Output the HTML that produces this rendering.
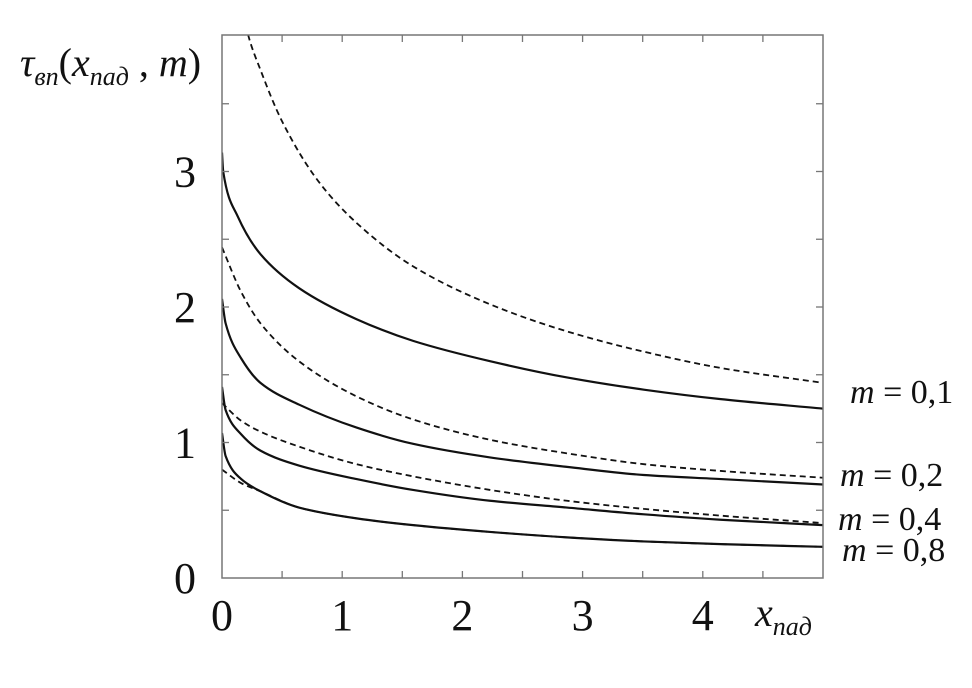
<!DOCTYPE html>
<html><head><meta charset="utf-8">
<style>
body{margin:0;background:#fff;}
svg{display:block;font-family:"Liberation Serif","DejaVu Serif",serif;}
.t{font-size:44px;fill:#111;}
.lg{font-size:34px;fill:#111;}
</style></head>
<body>
<svg id="chart" width="972" height="688" viewBox="0 0 972 688">
<defs><clipPath id="clip"><rect x="222" y="35" width="601" height="543"/></clipPath></defs>
<g id="curves" clip-path="url(#clip)"></g>
<rect x="222" y="35" width="601" height="543" fill="none" stroke="#777" stroke-width="1.5"/>
<g id="ticks"></g>
<text x="20" y="76" font-size="40" font-style="italic" fill="#111">τ<tspan font-size="26" dy="9">вп</tspan><tspan dy="-9" font-style="normal">(</tspan>x<tspan font-size="26" dy="9">пад</tspan><tspan dy="-9" font-style="normal"> , </tspan>m<tspan font-style="normal">)</tspan></text>
<text x="755" y="626" font-size="40" font-style="italic" fill="#111">x<tspan font-size="26" dy="9">пад</tspan></text>
<text class="lg" x="850" y="403"><tspan font-style="italic">m</tspan> = 0,1</text>
<text class="lg" x="840" y="486"><tspan font-style="italic">m</tspan> = 0,2</text>
<text class="lg" x="838" y="530"><tspan font-style="italic">m</tspan> = 0,4</text>
<text class="lg" x="842" y="561"><tspan font-style="italic">m</tspan> = 0,8</text>
</svg>
<script>
const xTickLabels=[0,1,2,3,4];
const yTickLabels=[0,1,2,3];
const seriesNames=['m01-solid','m01-dashed','m02-solid','m02-dashed','m04-solid','m04-dashed','m08-solid','m08-dashed'];
const seriesDashed=[false,true,false,true,false,true,false,true];
const xs01s=[0,0.01,0.13,0.32,0.64,1.12,1.59,2.23,2.87,3.51,4.15,5];
const ys01s=[3.14,3.0,2.67,2.39,2.14,1.91,1.75,1.6,1.48,1.39,1.32,1.25];
const xs01d=[0.15,0.22,0.32,0.5,0.8,1.12,1.59,2.23,2.87,3.51,4.15,5];
const ys01d=[4.3,4.0,3.75,3.37,2.93,2.62,2.3,2.02,1.82,1.67,1.55,1.44];
const xs02s=[0,0.03,0.16,0.32,0.64,1.12,1.59,2.23,2.87,3.51,4.15,5];
const ys02s=[2.06,1.88,1.62,1.44,1.28,1.11,0.99,0.89,0.82,0.76,0.73,0.69];
const xs02d=[0,0.16,0.32,0.64,1.12,1.59,2.23,2.87,3.51,4.15,5];
const ys02d=[2.44,2.11,1.88,1.6,1.34,1.17,1.02,0.92,0.84,0.79,0.74];
const xs04s=[0,0.03,0.16,0.32,0.64,1.12,1.59,2.23,2.87,3.51,4.15,5];
const ys04s=[1.41,1.24,1.06,0.94,0.83,0.73,0.65,0.57,0.52,0.47,0.43,0.39];
const xs04d=[0,0.16,0.32,0.64,1.12,1.59,2.23,2.87,3.51,4.15,5];
const ys04d=[1.29,1.16,1.08,0.97,0.84,0.75,0.65,0.57,0.51,0.46,0.405];
const xs08s=[0,0.03,0.16,0.32,0.64,1.12,1.59,2.23,2.87,3.51,4.15,5];
const ys08s=[1.07,0.9,0.73,0.64,0.52,0.44,0.39,0.34,0.3,0.27,0.25,0.23];
const xs08d=[0,0.16,0.32,0.64,1.12,1.59,2.23,2.87,3.51,4.15,5];
const ys08d=[0.8,0.7,0.64,0.52,0.44,0.39,0.34,0.3,0.27,0.25,0.23];
const seriesX=[xs01s,xs01d,xs02s,xs02d,xs04s,xs04d,xs08s,xs08d];
const seriesY=[ys01s,ys01d,ys02s,ys02d,ys04s,ys04d,ys08s,ys08d];

const X0=222,X1=823,Y0=578,YT=35;
function sx(v){return X0+v*(X1-X0)/5;}
function sy(v){return Y0-v*135.5;}
const NS='http://www.w3.org/2000/svg';
function monotonePath(pts){
  const n=pts.length, d=[], m=new Array(n);
  for(let i=0;i<n-1;i++)d.push((pts[i+1][1]-pts[i][1])/(pts[i+1][0]-pts[i][0]));
  m[0]=d[0]; m[n-1]=d[n-2];
  for(let i=1;i<n-1;i++){
    if(d[i-1]*d[i]<=0)m[i]=0;
    else{const h0=pts[i][0]-pts[i-1][0],h1=pts[i+1][0]-pts[i][0];
      const w1=2*h1+h0,w2=h1+2*h0; m[i]=(w1+w2)/(w1/d[i-1]+w2/d[i]);}
  }
  let s='M'+pts[0][0]+','+pts[0][1];
  for(let i=0;i<n-1;i++){
    const h=(pts[i+1][0]-pts[i][0])/3;
    s+=' C'+(pts[i][0]+h)+','+(pts[i][1]+m[i]*h)+' '+(pts[i+1][0]-h)+','+(pts[i+1][1]-m[i+1]*h)+' '+pts[i+1][0]+','+pts[i+1][1];
  }
  return s;
}
const g=document.getElementById('curves');
for(let s=0;s<seriesNames.length;s++){
  const pts=seriesX[s].map((x,i)=>[sx(x),sy(seriesY[s][i])]);
  const p=document.createElementNS(NS,'path');
  p.setAttribute('d',monotonePath(pts));
  p.setAttribute('fill','none');
  p.setAttribute('stroke','#111');
  p.setAttribute('stroke-width',seriesDashed[s]?'1.8':'2.2');
  if(seriesDashed[s])p.setAttribute('stroke-dasharray','6,4');
  
  
  g.appendChild(p);
}
const tg=document.getElementById('ticks');
function line(x1,y1,x2,y2){
  const l=document.createElementNS(NS,'line');
  l.setAttribute('x1',x1);l.setAttribute('y1',y1);l.setAttribute('x2',x2);l.setAttribute('y2',y2);
  l.setAttribute('stroke','#777');l.setAttribute('stroke-width','1.3');
  
  
  tg.appendChild(l);
}
for(let v=0.5;v<5;v+=0.5){line(sx(v),Y0,sx(v),Y0-7);line(sx(v),YT,sx(v),YT+7);}
for(let v=0.5;v<4;v+=0.5){line(X0,sy(v),X0+7,sy(v));line(X1,sy(v),X1-7,sy(v));}
xTickLabels.forEach(v=>{
  const t=document.createElementNS(NS,'text');
  t.setAttribute('x',sx(v));t.setAttribute('y',630);t.setAttribute('text-anchor','middle');
  t.setAttribute('class','t');t.textContent=v;
  
  
  tg.appendChild(t);
});
yTickLabels.forEach(v=>{
  const t=document.createElementNS(NS,'text');
  t.setAttribute('x',185);t.setAttribute('y',sy(v)+15);t.setAttribute('text-anchor','middle');
  t.setAttribute('class','t');t.textContent=v;
  
  
  tg.appendChild(t);
});
</script>
</body></html>
